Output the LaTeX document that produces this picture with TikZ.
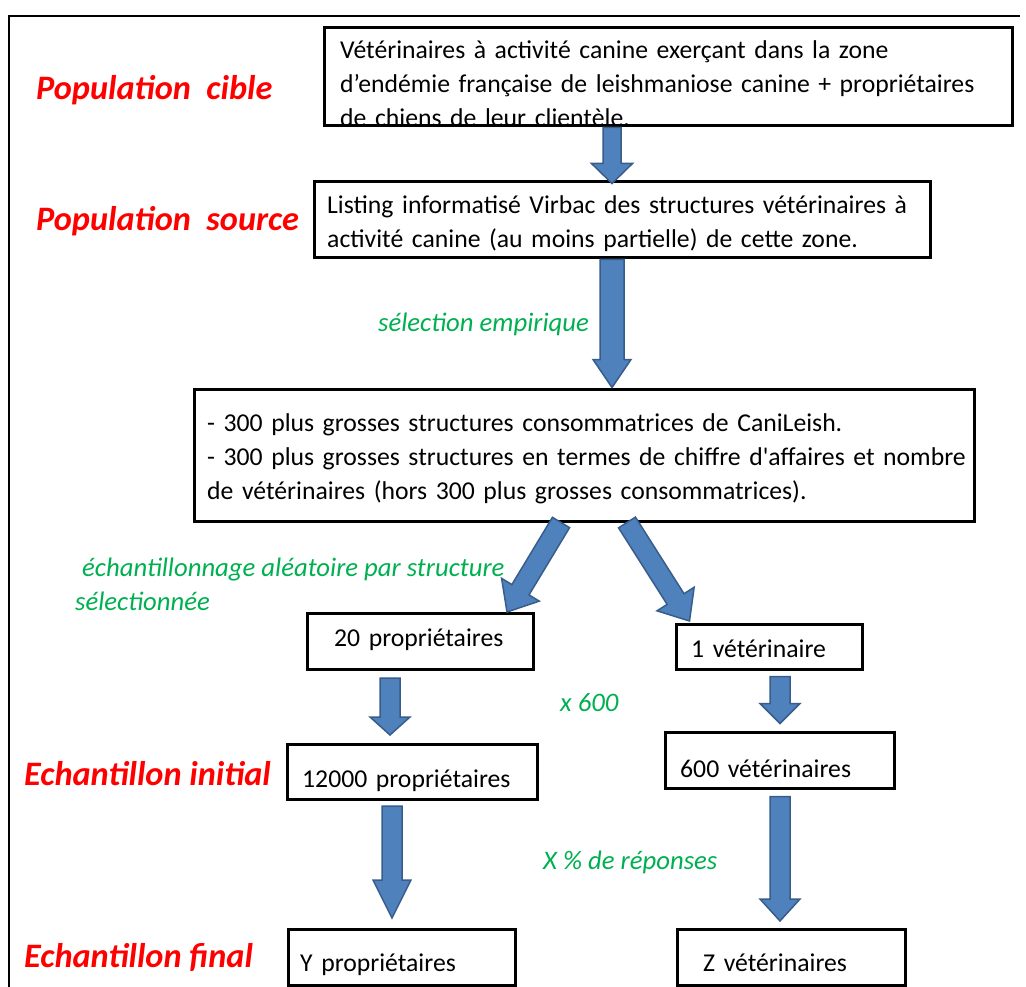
\documentclass[tikz,border=0pt]{standalone}
\usepackage{fontspec}
\setmainfont{Carlito}
\usetikzlibrary{calc}

\definecolor{arrowfill}{HTML}{4F81BD}
\definecolor{arrowline}{HTML}{385D8A}
\definecolor{stagered}{HTML}{FF0000}
\definecolor{notegreen}{HTML}{00B050}

\tikzset{
  box/.style={draw, line width=3pt, inner sep=0pt},
  boxtext/.style={anchor=base west, inner sep=0pt, align=left, text width=800pt,
                  font=\fontsize{25.7}{34}\selectfont},
  stage/.style={anchor=base west, inner sep=0pt, text=stagered,
                font=\fontsize{34.3}{40}\selectfont\bfseries\itshape},
  note/.style={anchor=base west, inner sep=0pt, text=notegreen,
               font=\fontsize{26.7}{34}\selectfont\itshape},
  flow/.style={fill=arrowfill, draw=arrowline, line width=1.5pt, line join=miter},
}

% block arrow: start, tip, shaft half width, head half width, head length
\newcommand{\blockarrow}[5]{%
  \coordinate (hb) at ($(#2)!#5!(#1)$);
  \draw[flow] ($(#1)!#3!90:(#2)$) -- ($(hb)!#3!-90:(#1)$) -- ($(hb)!#4!-90:(#1)$)
    -- (#2) -- ($(hb)!#4!90:(#1)$) -- ($(hb)!#3!90:(#1)$) -- ($(#1)!#3!-90:(#2)$) -- cycle;
}

\begin{document}
\begin{tikzpicture}[x=1pt, y=-1pt]
\clip (0,0) rectangle (1026,987);

% outer frame
\draw[line width=1.5pt] (1020,16) -- (9,16) -- (9,1000);

% boxes
\node[box, minimum width=688pt, minimum height=98pt]  (b1) at (668,77) {};
\node[box, minimum width=616pt, minimum height=76pt]  (b2) at (622,220) {};
\node[box, minimum width=780pt, minimum height=132pt] (b3) at (584,455) {};
\node[box, minimum width=226pt, minimum height=56pt]  (b4) at (420,641.5) {};
\node[box, minimum width=186pt, minimum height=45pt]  (b5) at (769.5,647) {};
\node[box, minimum width=250pt, minimum height=55pt]  (b6) at (412,772) {};
\node[box, minimum width=229pt, minimum height=56pt]  (b7) at (780,760.5) {};
\node[box, minimum width=227pt, minimum height=56pt]  (b8) at (401.5,957) {};
\node[box, minimum width=228pt, minimum height=56pt]  (b9) at (791,957) {};

% box texts
\node[boxtext] (t1) at (340,58.5) {Vétérinaires à activité canine exerçant dans la zone\\
  d’endémie française de leishmaniose canine + propriétaires\\
  de chiens de leur clientèle.};
\node[boxtext] (t2) at (327,214) {Listing informatisé Virbac des structures vétérinaires à\\
  activité canine (au moins partielle) de cette zone.};
\node[boxtext] (t3) at (207,431) {- 300 plus grosses structures consommatrices de CaniLeish.\\
  - 300 plus grosses structures en termes de chiffre d\textquotesingle affaires et nombre\\
  de vétérinaires (hors 300 plus grosses consommatrices).};
\node[boxtext] (t4) at (334,646) {20 propriétaires};
\node[boxtext] (t5) at (691,657) {1 vétérinaire};
\node[boxtext] (t6) at (302,787) {12000 propriétaires};
\node[boxtext] (t7) at (680,777) {600 vétérinaires};
\node[boxtext] (t8) at (300,971) {Y propriétaires};
\node[boxtext] (t9) at (703,971) {Z vétérinaires};

% stage labels
\node[stage] (s1) at (36,100)  {Population~~cible};
\node[stage] (s2) at (36,231) {Population~~source};
\node[stage] (s3) at (24,785) {Echantillon initial};
\node[stage] (s4) at (24,967) {Echantillon final};

% sampling notes
\node[note] (n1) at (378,331) {sélection empirique};
\node[note] (n2) at (82,576)  {échantillonnage aléatoire par structure};
\node[note] (n3) at (75,610)  {sélectionnée};
\node[note] (n4) at (560,711) {x 600};
\node[note] (n5) at (543,869) {X \% de réponses};

% arrow end points
\coordinate (a1s) at ($(b1.south)+(-56,0)$);
\coordinate (a1e) at ($(b2.north)+(-10,3)$);
\coordinate (a2s) at ($(b2.south)+(-10,0)$);
\coordinate (a2e) at ($(b3.north)+(28,0)$);
\coordinate (a3s) at ($(b3.south)+(-23,0)$);
\coordinate (a3e) at ($(b4.north)+(87,0)$);
\coordinate (a4s) at ($(b3.south)+(43,0)$);
\coordinate (a4e) at ($(b5.north)+(-80,-2)$);
\coordinate (a5s) at ($(b4.south)+(-30,7)$);
\coordinate (a5e) at ($(b6.north)+(-22,-8)$);
\coordinate (a6s) at ($(b5.south)+(10.5,5.5)$);
\coordinate (a6e) at ($(b7.north)+(0,-7.5)$);
\coordinate (a7s) at ($(b6.south)+(-20,5)$);
\coordinate (a7e) at ($(b8.north)+(-9.5,-9.5)$);
\coordinate (a8s) at ($(b7.south)+(0,6.5)$);
\coordinate (a8e) at ($(b9.north)+(-11,-6.5)$);

% block arrows
\blockarrow{a1s}{a1e}{9pt}{20.5pt}{20pt}
\blockarrow{a2s}{a2e}{12pt}{19pt}{28pt}
\blockarrow{a3s}{a3e}{10pt}{22pt}{26pt}
\blockarrow{a4s}{a4e}{10pt}{22pt}{26pt}
\blockarrow{a5s}{a5e}{10pt}{20pt}{18pt}
\blockarrow{a6s}{a6e}{10pt}{20pt}{20pt}
\blockarrow{a7s}{a7e}{10pt}{19pt}{38pt}
\blockarrow{a8s}{a8e}{10pt}{20pt}{22pt}
\end{tikzpicture}
\end{document}
